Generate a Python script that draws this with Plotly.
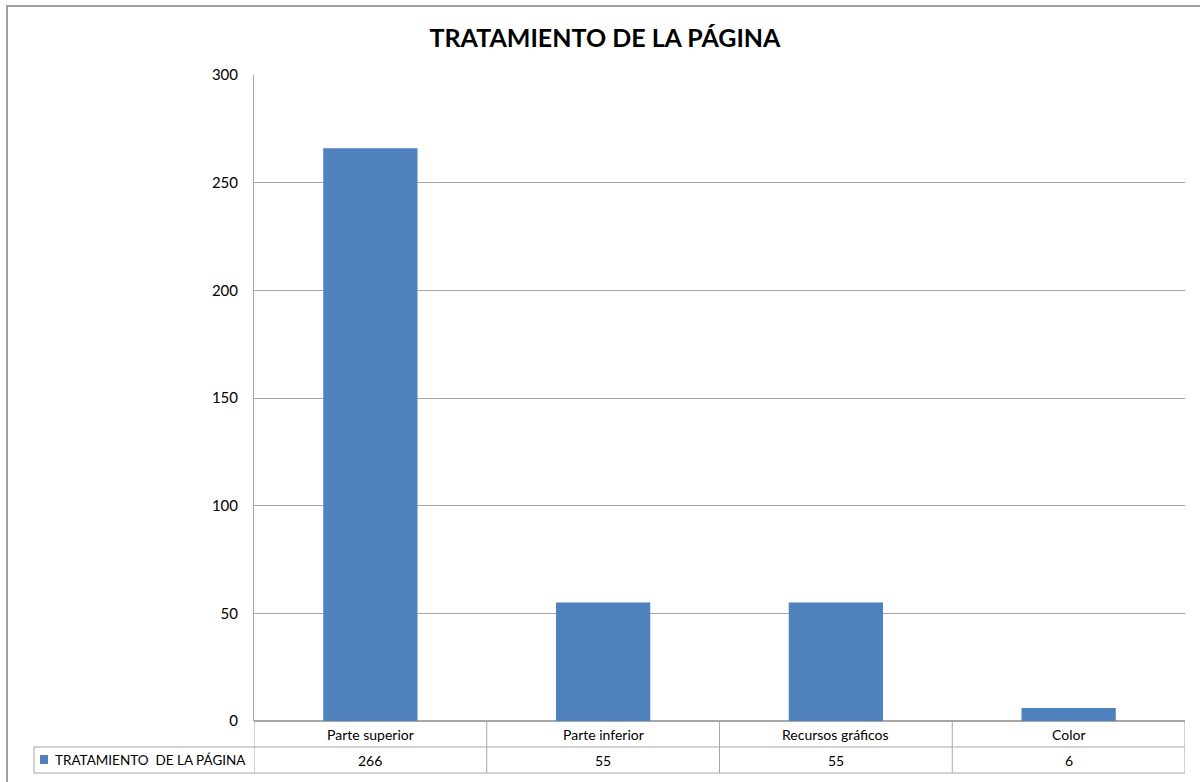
import plotly.graph_objects as go

categories = ["Parte superior", "Parte inferior", "Recursos gráficos", "Color"]
values = [266, 55, 55, 6]
series_name = "TRATAMIENTO  DE LA PÁGINA"
title_text = "TRATAMIENTO DE LA PÁGINA"
y_ticks = [0, 50, 100, 150, 200, 250, 300]

FONT = "Lato, 'Open Sans', sans-serif"
BAR = "#4F81BD"
GRID = "#A6A6A6"
TXT = "#000000"

W, H = 1200, 782
L, R, T, B = 254, 15, 75, 61
pw = W - L - R
ph = H - T - B


def px_x(x):
    return (x - L) / pw


def px_y(y):
    return (H - B - y) / ph


fig = go.Figure()
fig.add_trace(go.Bar(
    x=list(range(len(categories))),
    y=values,
    name=series_name,
    marker=dict(color=BAR, line=dict(width=0)),
    width=0.405,
    showlegend=False,
))

shapes = []
annotations = []

row1_bot = px_y(747)
row2_bot = px_y(773)
legend_left = px_x(34)
line = dict(color=GRID, width=1)
shapes.append(dict(type="line", xref="paper", yref="paper", x0=legend_left, x1=1, y0=row1_bot, y1=row1_bot, line=line))
shapes.append(dict(type="line", xref="paper", yref="paper", x0=legend_left, x1=1, y0=row2_bot, y1=row2_bot, line=line))
shapes.append(dict(type="line", xref="paper", yref="paper", x0=legend_left, x1=legend_left, y0=row1_bot, y1=row2_bot, line=line))
for i in range(len(categories) + 1):
    shapes.append(dict(type="line", xref="x", yref="paper", x0=i - 0.5, x1=i - 0.5, y0=0, y1=row2_bot, line=line))

for i, (c, v) in enumerate(zip(categories, values)):
    annotations.append(dict(x=i, y=(0 + row1_bot) / 2, xref="x", yref="paper", text=c, showarrow=False,
                            font=dict(family=FONT, size=14, color=TXT), yanchor="middle"))
    annotations.append(dict(x=i, y=(row1_bot + row2_bot) / 2, xref="x", yref="paper", text=str(v), showarrow=False,
                            font=dict(family=FONT, size=14, color=TXT), yanchor="middle"))

shapes.append(dict(type="rect", xref="paper", yref="paper", x0=px_x(40), x1=px_x(48), y0=px_y(764), y1=px_y(755),
                   fillcolor=BAR, line=dict(width=0)))
annotations.append(dict(x=px_x(53), y=(row1_bot + row2_bot) / 2, xref="paper", yref="paper", text=series_name,
                        showarrow=False, xanchor="left", yanchor="middle",
                        font=dict(family=FONT, size=13.5, color=TXT)))

shapes.append(dict(type="rect", xref="paper", yref="paper", x0=px_x(7), x1=px_x(1250), y0=px_y(900), y1=px_y(6),
                   line=dict(color="#A0A0A0", width=2), fillcolor="rgba(0,0,0,0)", layer="below"))

fig.update_layout(
    width=W, height=H,
    margin=dict(l=L, r=R, t=T, b=B),
    paper_bgcolor="white", plot_bgcolor="white",
    title=dict(text="<b>" + title_text + "</b>", x=605 / W, xanchor="center", y=1 - 38 / H, yanchor="middle",
               font=dict(family=FONT, size=25, color="#000")),
    shapes=shapes,
    annotations=annotations,
)
fig.update_xaxes(range=[-0.5, len(categories) - 0.5], showticklabels=False, showgrid=False,
                 zeroline=False, showline=False, ticks="")
fig.update_yaxes(range=[0, 300], tickvals=y_ticks, showgrid=True, gridcolor=GRID, gridwidth=1,
                 zeroline=True, zerolinecolor=GRID, showline=True, linecolor=GRID, linewidth=1,
                 ticks="", ticklabelstandoff=12,
                 tickfont=dict(family=FONT, size=15, color=TXT))

fig.write_html("out.html", config={"displayModeBar": False},
               post_script="document.body.style.margin='0px';document.body.style.overflow='hidden';")
